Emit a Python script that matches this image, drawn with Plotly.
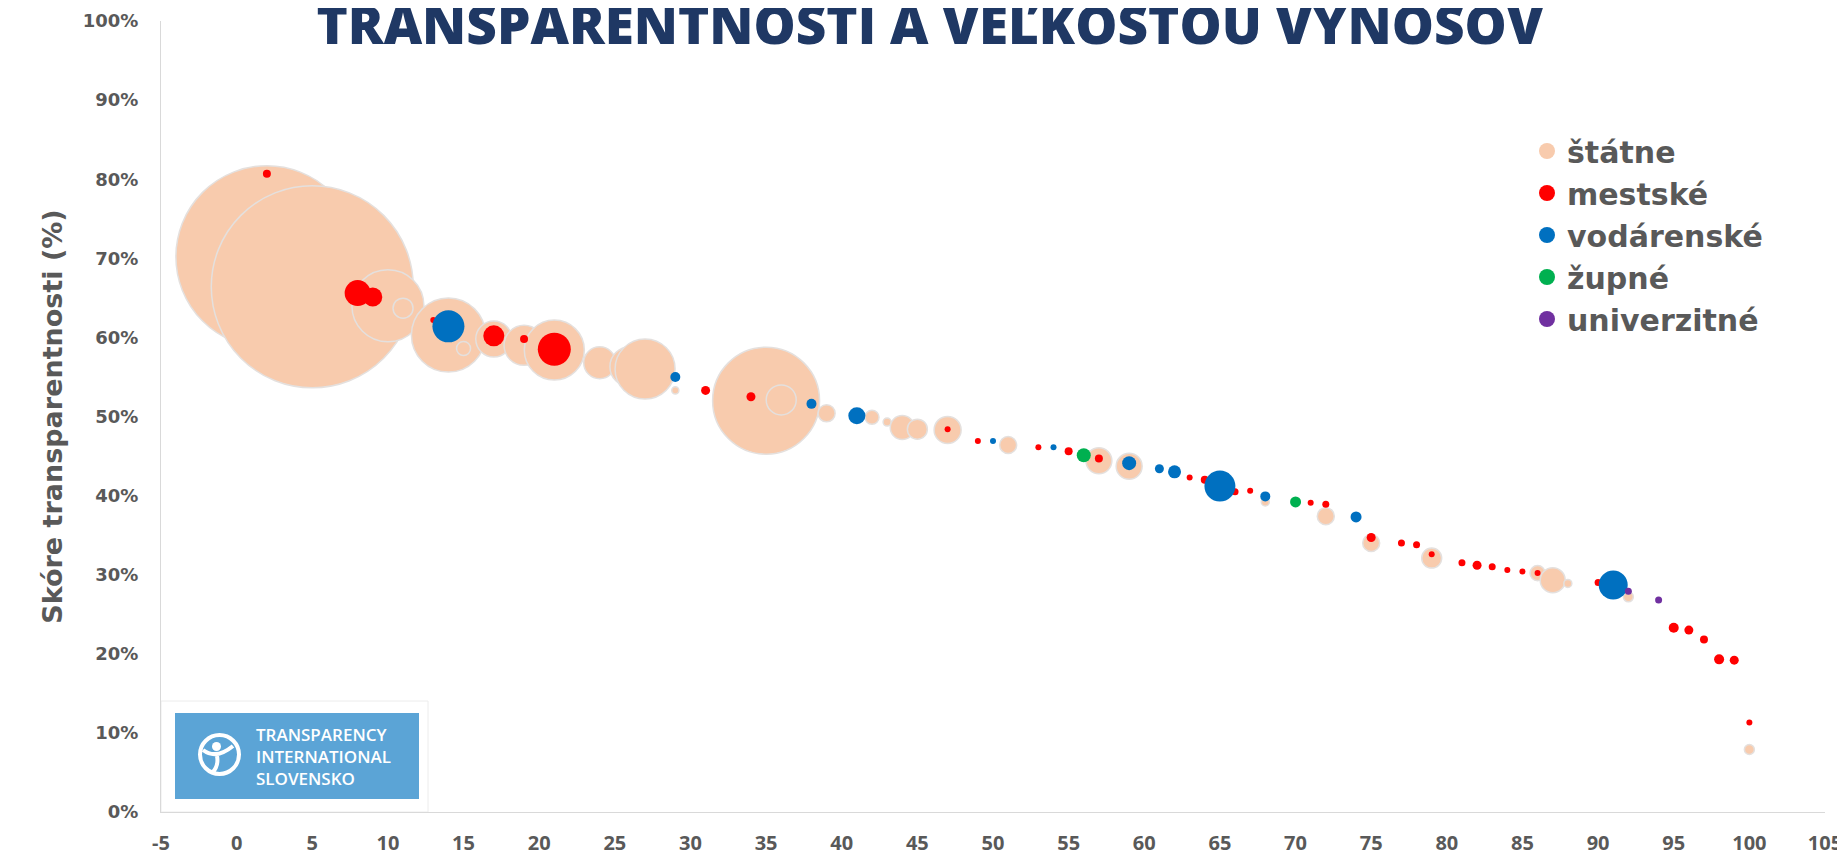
import plotly.graph_objects as go

# ---------------- data ----------------
# x = poradie (0-100), y = skóre transparentnosti v %, v = výnosy (relatívna veľkosť bubliny)
statne_x = [2, 5, 10, 11, 14, 15, 17, 19, 21, 24, 26, 27, 29, 35, 36, 39, 42, 43, 44, 45,
            47, 51, 57, 59, 68, 72, 75, 79, 86, 87, 88, 92, 100]
statne_y = [70.2, 66.4, 64.0, 63.7, 60.3, 58.6, 59.8, 59.0, 58.4, 56.8, 56.3, 56.0, 53.3, 52.0,
            52.1, 50.4, 49.9, 49.3, 48.6, 48.4, 48.3, 46.4, 44.4, 43.7, 39.2, 37.4, 34.0, 32.1,
            30.2, 29.3, 28.9, 27.2, 7.9]
statne_v = [1656, 2040, 259, 20, 274, 9.8, 65, 80, 180, 51, 80, 180, 2.5, 572, 45, 14.5, 9.8,
            3.2, 28.8, 20, 36.5, 14.5, 33.8, 33.8, 3.2, 14.5, 14.5, 20, 11.3, 31.3, 3.2, 5, 5]

mestske_x = [2, 8, 9, 13, 17, 19, 21, 31, 34, 47, 49, 53, 55, 57, 63, 64, 66, 67, 71, 72, 75,
             77, 78, 79, 81, 82, 83, 84, 85, 86, 90, 95, 96, 97, 98, 99, 100]
mestske_y = [80.7, 65.6, 65.1, 62.2, 60.2, 59.8, 58.5, 53.3, 52.5, 48.4, 46.9, 46.1, 45.6, 44.7,
             42.3, 42.0, 40.5, 40.6, 39.1, 38.9, 34.7, 34.0, 33.8, 32.6, 31.5, 31.2, 31.0, 30.6,
             30.4, 30.2, 29.0, 23.3, 23.0, 21.8, 19.3, 19.2, 11.3]
mestske_v = [3.2, 33.8, 18.1, 1.25, 22.1, 3.2, 54.5, 4.05, 4.05, 0.8, 0.8, 1.25, 3.2, 3.2, 1.25,
             3.2, 2.45, 1.8, 1.25, 2.45, 4.05, 2.45, 2.45, 0.8, 2.45, 4.05, 2.45, 1.8, 1.8, 0.8,
             2.45, 5.0, 4.05, 3.2, 5.0, 4.05, 1.25]

vodarenske_x = [14, 29, 38, 41, 50, 54, 59, 61, 62, 65, 68, 74, 91]
vodarenske_y = [61.4, 55.0, 51.6, 50.1, 46.9, 46.1, 44.1, 43.4, 43.0, 41.2, 39.9, 37.3, 28.7]
vodarenske_v = [51.2, 5, 5, 14.5, 1.25, 1.25, 9.8, 4.05, 8.45, 48, 5, 6.05, 42]

zupne_x = [56, 70]
zupne_y = [45.1, 39.2]
zupne_v = [9.8, 6.05]

univerzitne_x = [92, 94]
univerzitne_y = [27.9, 26.8]
univerzitne_v = [2.45, 2.45]

kategorie = ["štátne", "mestské", "vodárenské", "župné", "univerzitné"]
farby = ["#F8CBAD", "#FF0000", "#0070C0", "#00B050", "#7030A0"]

x_ticks = list(range(-5, 106, 5))
y_ticks = list(range(0, 101, 10))

# ---------------- layout helpers ----------------
# the page body has an 8 px margin, so the figure is placed 8 px right/down of the window corner
OFF = 8
W, H = 1845 - OFF, 855 - OFF
PL, PR, PT, PB = 161, 1825, 21, 812          # plot area in window pixels
ML, MT = PL - OFF, PT - OFF
MR, MB = W - (PR - OFF), H - (PB - OFF)
PW, PH = PR - PL, PB - PT


def px(xp):
    return (xp - PL) / PW


def py(yp):
    return (PB - yp) / PH


GREY = "#595959"
all_v = statne_v + mestske_v + vodarenske_v + zupne_v + univerzitne_v
sizeref = 2.0 * max(all_v) / (202 ** 2)

fig = go.Figure()

series = [
    (statne_x, statne_y, statne_v),
    (mestske_x, mestske_y, mestske_v),
    (vodarenske_x, vodarenske_y, vodarenske_v),
    (zupne_x, zupne_y, zupne_v),
    (univerzitne_x, univerzitne_y, univerzitne_v),
]

for i, ((xs, ys, vs), name, col) in enumerate(zip(series, kategorie, farby)):
    line = dict(width=1.5, color="#E4E0DE") if i == 0 else dict(width=0)
    fig.add_trace(go.Scatter(
        x=xs, y=ys, mode="markers", name=name, showlegend=False,
        marker=dict(size=vs, sizemode="area", sizeref=sizeref, sizemin=3,
                    color=col, opacity=1, line=line),
        hoverinfo="skip",
    ))

# legend-only entries
for name, col in zip(kategorie, farby):
    fig.add_trace(go.Scatter(
        x=[None], y=[None], mode="markers", name=name, legendgroup=name,
        marker=dict(size=16, color=col), showlegend=True,
    ))

# ---------------- logo ----------------
shapes = [
    dict(type="rect", xref="paper", yref="paper", x0=px(161), x1=px(428), y0=py(812), y1=py(701),
         line=dict(color="#ECECEC", width=1), fillcolor="rgba(0,0,0,0)", layer="below"),
    dict(type="rect", xref="paper", yref="paper", x0=px(175), x1=px(419), y0=py(799), y1=py(713),
         line=dict(width=0), fillcolor="#5BA4D6", layer="above"),
    dict(type="circle", xref="paper", yref="paper", x0=px(200), x1=px(239), y0=py(774), y1=py(735),
         line=dict(color="white", width=4), fillcolor="rgba(0,0,0,0)", layer="above"),
    dict(type="circle", xref="paper", yref="paper", x0=px(212), x1=px(221), y0=py(751), y1=py(742),
         line=dict(width=0), fillcolor="white", layer="above"),
    dict(type="path", xref="paper", yref="paper", layer="above",
         path=(f"M {px(203)},{py(750)} Q {px(216)},{py(760)} {px(233)},{py(746)} "
               f"M {px(217)},{py(756)} Q {px(219)},{py(766)} {px(212)},{py(773)}"),
         line=dict(color="white", width=4)),
]

annotations = [dict(
    text="TRANSPARENCY<br>INTERNATIONAL<br>SLOVENSKO", xref="paper", yref="paper",
    x=px(254), y=py(756.7), xanchor="left", yanchor="middle", align="left", showarrow=False,
    font=dict(family="Open Sans", size=17, color="white", weight=600),
)]

fig.update_layout(
    width=W, height=H,
    margin=dict(l=ML, r=MR, t=MT, b=MB, autoexpand=False),
    paper_bgcolor="white", plot_bgcolor="white",
    title=dict(text="TRANSPARENTNOSTI A VEĽKOSTOU VÝNOSOV", x=(930 - OFF) / W, xanchor="center",
               xref="container", yref="container", y=1 - (25 - OFF) / H, yanchor="middle",
               font=dict(family="Open Sans", size=53, color="#1F3864", weight=800)),
    xaxis=dict(range=[-5, 105], tickvals=x_ticks, ticktext=[str(t) for t in x_ticks],
               showgrid=False, zeroline=False, showline=True, linecolor="#D9D9D9", linewidth=1,
               ticks="", ticklabelstandoff=13,
               tickfont=dict(family="Liberation Sans Narrow, Open Sans", size=20, color=GREY,
                             weight="bold")),
    yaxis=dict(range=[0, 100], tickvals=y_ticks, ticktext=[f"{t}%" for t in y_ticks],
               showgrid=False, zeroline=False, showline=True, linecolor="#D9D9D9", linewidth=1,
               ticks="", ticklabelstandoff=18,
               tickfont=dict(family="DejaVu Sans", size=18, color=GREY, weight="bold"),
               title=dict(text="Skóre transparentnosti (%)", standoff=12,
                          font=dict(family="DejaVu Sans", size=27, color=GREY, weight="bold"))),
    legend=dict(x=px(1527), y=py(125), xanchor="left", yanchor="top",
                traceorder="grouped", tracegroupgap=0, bgcolor="rgba(0,0,0,0)",
                font=dict(family="DejaVu Sans", size=30, color=GREY, weight="bold")),
    shapes=shapes,
    annotations=annotations,
    showlegend=True,
)

fig.write_html("out.html", config={"displayModeBar": False})
